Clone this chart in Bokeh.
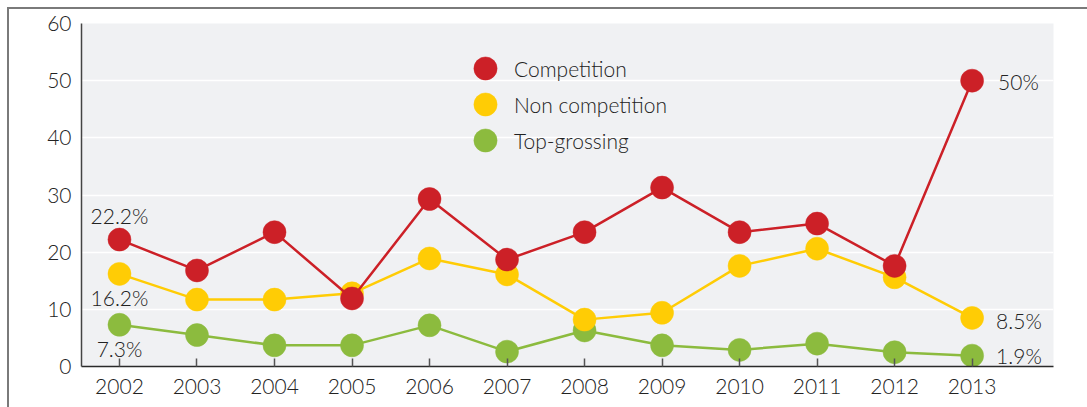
from bokeh.plotting import figure
from bokeh.models import (Legend, LegendItem, FixedTicker, Label, Range1d)
from bokeh.embed import file_html
from bokeh.resources import INLINE

# ---- data ----
years = [2002, 2003, 2004, 2005, 2006, 2007, 2008, 2009, 2010, 2011, 2012, 2013]
competition = [22.2, 16.8, 23.5, 11.9, 29.3, 18.7, 23.5, 31.3, 23.5, 25.0, 17.6, 50.0]
non_competition = [16.2, 11.7, 11.7, 12.8, 18.9, 16.1, 8.2, 9.4, 17.6, 20.6, 15.6, 8.5]
top_grossing = [7.3, 5.5, 3.7, 3.7, 7.2, 2.6, 6.3, 3.7, 2.9, 4.0, 2.5, 1.9]
series_names = ["Competition", "Non competition", "Top-grossing"]
y_ticks = [0, 10, 20, 30, 40, 50, 60]

RED = "#cc2027"
YELLOW = "#ffcc05"
GREEN = "#8cbb3e"
TXT = "#222222"
FONT = "Lato Light"

W, H = 1087, 407
p = figure(width=W, height=H,
           x_range=Range1d(2001.51, 2014.05), y_range=Range1d(0, 60),
           output_backend="svg", toolbar_location=None,
           min_border_left=81, min_border_right=34,
           min_border_top=23, min_border_bottom=41)

p.background_fill_color = "#f0f1f3"
p.border_fill_alpha = 0
p.outline_line_color = None
# page box lines (left and top) drawn as CSS background behind the transparent border
p.styles = {
    "background-color": "white",
    "background-image": "linear-gradient(#7a7a7a,#7a7a7a), linear-gradient(#7a7a7a,#7a7a7a)",
    "background-size": "2px 420px, 1100px 2px",
    "background-position": "7px 7px, 7px 7px",
    "background-repeat": "no-repeat",
}

# grid
p.xgrid.grid_line_color = None
p.ygrid.grid_line_color = "white"
p.ygrid.grid_line_width = 1.5

# x axis
p.xaxis.ticker = FixedTicker(ticks=years)
p.xaxis.major_tick_in = 8
p.xaxis.major_tick_out = 0
p.xaxis.major_tick_line_color = "#555555"
p.xaxis.major_tick_line_width = 1.5
p.xaxis.minor_tick_line_color = None
p.xaxis.axis_line_color = "#2a2a2a"
p.xaxis.axis_line_width = 1.5
p.xaxis.major_label_text_font = FONT
p.xaxis.major_label_text_font_size = "21px"
p.xaxis.major_label_text_color = TXT
p.xaxis.major_label_standoff = 12

# y axis
p.yaxis.ticker = FixedTicker(ticks=y_ticks)
p.yaxis.major_tick_line_color = None
p.yaxis.minor_tick_line_color = None
p.yaxis.axis_line_color = "#444444"
p.yaxis.axis_line_width = 1.5
p.yaxis.major_label_text_font = FONT
p.yaxis.major_label_text_font_size = "21px"
p.yaxis.major_label_text_color = TXT
p.yaxis.major_label_standoff = 4

renderers = []
for vals, col in [(top_grossing, GREEN), (non_competition, YELLOW), (competition, RED)]:
    p.line(years, vals, line_color=col, line_width=2.5)
    r = p.scatter(years, vals, size=23, fill_color=col, line_color=col, line_width=0.5)
    renderers.append(r)

r_green, r_yellow, r_red = renderers

# one legend per entry, so that rows can sit closer than the glyph box
for name, rend, ly in [(series_names[0], r_red, 269),
                       (series_names[1], r_yellow, 233),
                       (series_names[2], r_green, 197)]:
    lg = Legend(items=[LegendItem(label=name, renderers=[rend])],
                location=(375, ly), glyph_width=58, glyph_height=58,
                padding=0, margin=0, label_standoff=0, border_line_color=None,
                background_fill_alpha=0, label_text_font=FONT,
                label_text_font_size="21px", label_text_color=TXT)
    p.add_layout(lg)

def fmt(v):
    return f"{v:g}%"

# start labels
for vals, off in [(competition, 24), (non_competition, -24), (top_grossing, -24)]:
    p.add_layout(Label(x=years[0], y=vals[0], text=fmt(vals[0]), y_offset=off,
                       text_align="center", text_baseline="middle",
                       text_font=FONT, text_font_size="21px", text_color=TXT))
# end labels
for vals, xo, yo in [(competition, 26, -1), (non_competition, 24, -3), (top_grossing, 24, 0)]:
    p.add_layout(Label(x=years[-1], y=vals[-1], text=fmt(vals[-1]), x_offset=xo, y_offset=yo,
                       text_align="left", text_baseline="middle",
                       text_font=FONT, text_font_size="21px", text_color=TXT))

open("out.html", "w").write(file_html(p, INLINE))
